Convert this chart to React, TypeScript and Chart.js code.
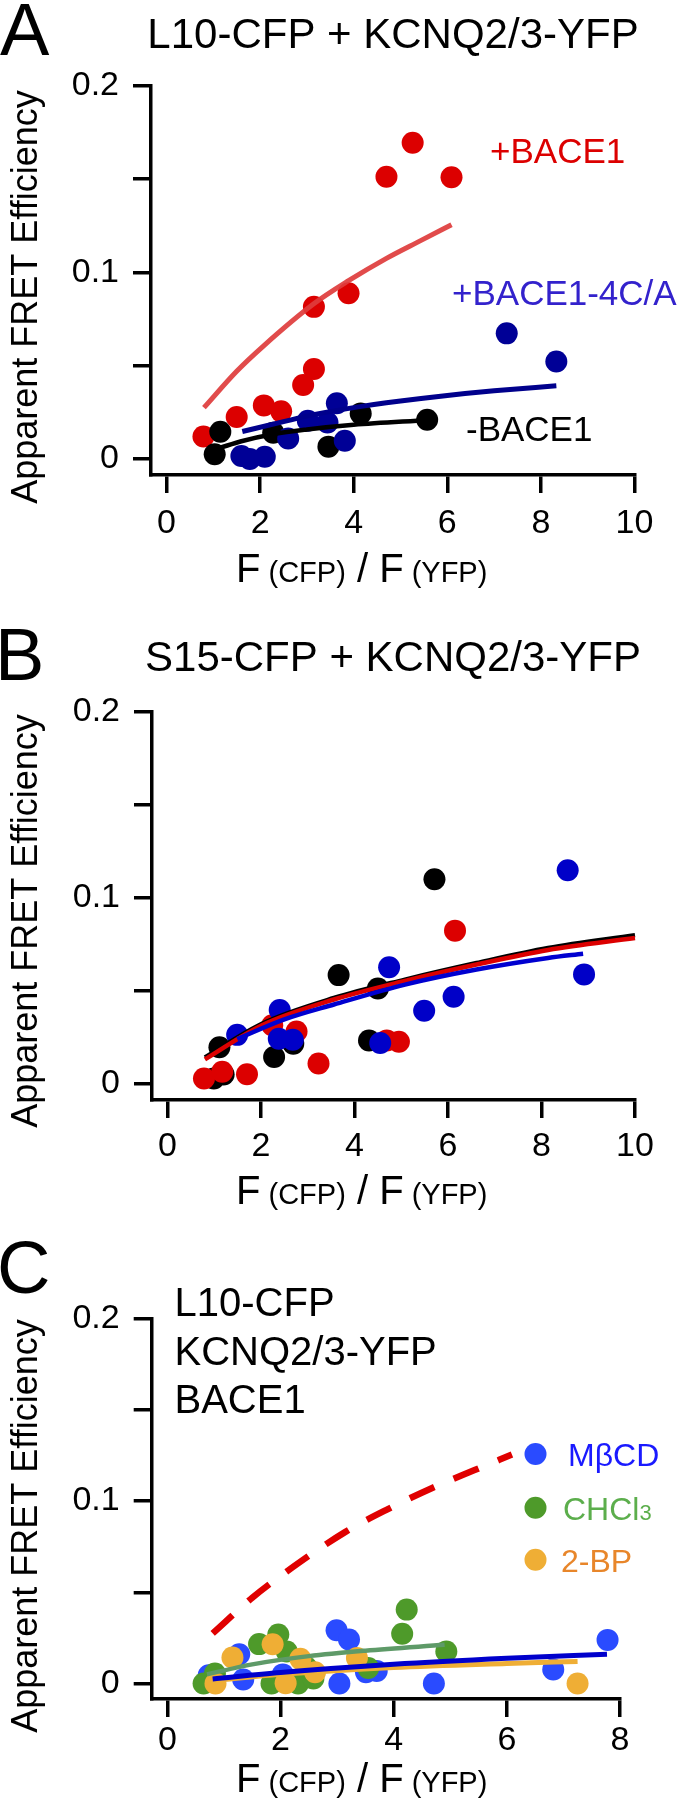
import React, { useEffect, useRef } from 'react';
import { Chart, registerables } from 'chart.js';

Chart.register(...registerables);

const FONT = "'Liberation Sans', Arial, Helvetica, sans-serif";
const PAGE_W = 687;

// ---------- axis ticks ----------
const X_TICKS_AB = [0, 2, 4, 6, 8, 10];
const X_TICK_LABELS_AB = ['0', '2', '4', '6', '8', '10'];
const X_TICKS_C = [0, 2, 4, 6, 8];
const X_TICK_LABELS_C = ['0', '2', '4', '6', '8'];
const Y_TICKS = [0, 0.05, 0.1, 0.15, 0.2];
const Y_TICK_LABELS = ['0', '', '0.1', '', '0.2'];

// ---------- Panel A: L10-CFP + KCNQ2/3-YFP ----------
const A_CTRL_X = [1.03, 1.15, 2.28, 3.46, 4.15, 5.57];
const A_CTRL_Y = [0.0025, 0.0146, 0.0141, 0.0066, 0.0243, 0.021];
const A_BACE1_X = [0.79, 1.5, 2.08, 2.45, 2.92, 3.15, 3.15, 3.89, 4.7, 5.26, 6.09];
const A_BACE1_Y = [0.012, 0.0225, 0.0287, 0.0255, 0.0396, 0.0482, 0.0815, 0.0888, 0.1512, 0.1694, 0.1509];
const A_4CA_X = [1.6, 1.78, 2.1, 2.6, 3.02, 3.44, 3.64, 3.81, 7.27, 8.33];
const A_4CA_Y = [0.0016, 0.0, 0.0012, 0.011, 0.0205, 0.0195, 0.0298, 0.0098, 0.0673, 0.0522];

const A_CTRL_FIT_X = [1.15, 1.6, 2.3, 3.0, 4.0, 5.57];
const A_CTRL_FIT_Y = [0.006, 0.0095, 0.0134, 0.0158, 0.0183, 0.0208];
const BACE1_FIT_X = [0.8, 1.5, 2.07, 3.14, 3.89, 4.7, 5.43, 6.09];
const BACE1_FIT_Y = [0.0275, 0.047, 0.0605, 0.083, 0.0955, 0.1075, 0.117, 0.1255];
const A_4CA_FIT_X = [1.62, 2.5, 3.2, 4.0, 5.0, 6.0, 7.0, 8.33];
const A_4CA_FIT_Y = [0.0147, 0.02, 0.024, 0.0275, 0.031, 0.034, 0.0365, 0.0392];

// ---------- Panel B: S15-CFP + KCNQ2/3-YFP ----------
const B_CTRL_X = [0.99, 1.2, 1.11, 2.28, 2.69, 3.66, 4.5, 4.31, 5.71];
const B_CTRL_Y = [0.0028, 0.0049, 0.0195, 0.0143, 0.0214, 0.0583, 0.0511, 0.0232, 0.1098];
const B_BACE1_X = [0.78, 1.17, 1.7, 2.24, 2.76, 3.23, 4.69, 4.95, 6.15];
const B_BACE1_Y = [0.0028, 0.0064, 0.005, 0.0314, 0.028, 0.0108, 0.0232, 0.0225, 0.0822];
const B_4CA_X = [1.49, 2.4, 2.38, 2.68, 4.74, 4.55, 5.49, 6.12, 8.56, 8.91];
const B_4CA_Y = [0.0262, 0.0396, 0.0241, 0.0236, 0.0625, 0.0218, 0.0392, 0.0467, 0.1146, 0.0587];

const B_CTRL_FIT_X = [0.8, 2.03, 3.56, 5.08, 6.61, 8.14, 10.0];
const B_CTRL_FIT_Y = [0.0141, 0.0323, 0.046, 0.0559, 0.0648, 0.0729, 0.0798];
const B_BACE1_FIT_X = [0.8, 2.03, 3.56, 5.08, 6.61, 8.14, 10.0];
const B_BACE1_FIT_Y = [0.013, 0.0315, 0.0452, 0.0552, 0.064, 0.0718, 0.0782];
const B_4CA_FIT_X = [1.49, 2.5, 3.56, 5.08, 6.61, 8.14, 8.89];
const B_4CA_FIT_Y = [0.024, 0.0345, 0.0425, 0.0532, 0.0613, 0.0675, 0.0698];

// ---------- Panel C: L10-CFP / KCNQ2/3-YFP / BACE1 with treatments ----------
const C_MBCD_X = [0.73, 1.27, 1.34, 2.04, 2.99, 3.21, 3.04, 3.51, 3.7, 4.71, 6.82, 7.78];
const C_MBCD_Y = [0.0045, 0.016, 0.0022, 0.005, 0.0292, 0.0241, 0.0, 0.0062, 0.0069, 0.0, 0.0077, 0.0239];
const C_CHCL3_X = [0.64, 0.84, 1.62, 1.96, 2.11, 1.84, 2.31, 2.58, 2.46, 3.55, 4.15, 4.23, 4.93];
const C_CHCL3_Y = [0.0, 0.0055, 0.0216, 0.0268, 0.0175, 0.0, 0.0, 0.0027, 0.0088, 0.0085, 0.0273, 0.0405, 0.0175];
const C_2BP_X = [0.85, 1.15, 1.86, 2.09, 2.35, 2.61, 3.35, 7.25];
const C_2BP_Y = [0.0, 0.0143, 0.0215, 0.0002, 0.0135, 0.0062, 0.014, 0.0];

const C_MBCD_FIT_X = [0.8, 2.0, 4.0, 6.0, 7.77];
const C_MBCD_FIT_Y = [0.0025, 0.006, 0.0105, 0.0138, 0.0161];
const C_CHCL3_FIT_X = [0.7, 1.5, 2.5, 3.5, 4.9];
const C_CHCL3_FIT_Y = [0.005, 0.0105, 0.015, 0.018, 0.0212];
const C_2BP_FIT_X = [0.84, 2.0, 4.0, 6.0, 7.25];
const C_2BP_FIT_Y = [0.0017, 0.005, 0.0088, 0.011, 0.0121];

// ---------- helpers ----------
const pts = (xs: number[], ys: number[]) => xs.map((x, i) => ({ x, y: ys[i] }));

const dots = (xs: number[], ys: number[], color: string, order: number) => ({
  data: pts(xs, ys),
  backgroundColor: color,
  borderColor: color,
  pointRadius: 11,
  pointBorderWidth: 0,
  borderWidth: 0,
  showLine: false,
  clip: false,
  order,
});

const curve = (xs: number[], ys: number[], color: string, width: number, order: number, dash: number[] = []) => ({
  data: pts(xs, ys),
  borderColor: color,
  backgroundColor: color,
  borderWidth: width,
  pointRadius: 0,
  showLine: true,
  fill: false,
  cubicInterpolationMode: 'monotone',
  borderDash: dash,
  clip: false,
  order,
});

type Part = { t: string; size: number; color?: string };
type TextItem = { parts: Part[]; x: number; y: number; align?: 'left' | 'center'; rotate?: boolean };
type Swatch = { x: number; y: number; r: number; color: string };

interface PanelCfg {
  top: number;
  height: number;
  area: { left: number; top: number; right: number; bottom: number };
  xMin: number;
  xMax: number;
  yMin: number;
  yMax: number;
  xTicks: number[];
  xTickLabels: string[];
  xLabelPad: number;
  datasets: any[];
  texts: TextItem[];
  swatches?: Swatch[];
}

const xTitle = (y: number): TextItem => ({
  x: 236,
  y,
  parts: [
    { t: 'F', size: 40 },
    { t: ' (CFP)', size: 29 },
    { t: ' / F', size: 40 },
    { t: ' (YFP)', size: 29 },
  ],
});
const yTitle = (y: number): TextItem => ({
  x: 37,
  y,
  rotate: true,
  align: 'center',
  parts: [{ t: 'Apparent FRET Efficiency', size: 36 }],
});

const PANEL_A: PanelCfg = {
  top: 0,
  height: 600,
  area: { left: 151, top: 85.7, right: 634.5, bottom: 475 },
  xMin: -0.331,
  xMax: 10,
  yMin: -0.0086,
  yMax: 0.2,
  xTicks: X_TICKS_AB,
  xTickLabels: X_TICK_LABELS_AB,
  xLabelPad: 10,
  datasets: [
    curve(BACE1_FIT_X, BACE1_FIT_Y, 'rgba(222,60,60,0.92)', 5, 0),
    curve(A_4CA_FIT_X, A_4CA_FIT_Y, '#00008c', 5, 1),
    curve(A_CTRL_FIT_X, A_CTRL_FIT_Y, '#000000', 4.5, 2),
    dots(A_4CA_X, A_4CA_Y, '#000096', 3),
    dots(A_CTRL_X, A_CTRL_Y, '#000000', 4),
    dots(A_BACE1_X, A_BACE1_Y, '#dc0000', 5),
  ],
  texts: [
    { x: 0, y: 55, parts: [{ t: 'A', size: 74 }] },
    { x: 393, y: 48, align: 'center', parts: [{ t: 'L10-CFP + KCNQ2/3-YFP', size: 42 }] },
    yTitle(297),
    xTitle(582),
    { x: 490, y: 162.5, parts: [{ t: '+BACE1', size: 35, color: '#dc0000' }] },
    { x: 452, y: 305, parts: [{ t: '+BACE1-4C/A', size: 35, color: '#3322cc' }] },
    { x: 466, y: 441, parts: [{ t: '-BACE1', size: 35, color: '#000000' }] },
  ],
};

const PANEL_B: PanelCfg = {
  top: 600,
  height: 610,
  area: { left: 152, top: 111.4, right: 635, bottom: 500 },
  xMin: -0.332,
  xMax: 10,
  yMin: -0.0088,
  yMax: 0.2,
  xTicks: X_TICKS_AB,
  xTickLabels: X_TICK_LABELS_AB,
  xLabelPad: 8,
  datasets: [
    curve(B_4CA_FIT_X, B_4CA_FIT_Y, '#0000d0', 4.5, 0),
    curve(B_BACE1_FIT_X, B_BACE1_FIT_Y, '#dc0000', 4.5, 1),
    curve(B_CTRL_FIT_X, B_CTRL_FIT_Y, '#000000', 4.5, 2),
    dots(B_4CA_X, B_4CA_Y, '#0000c8', 3),
    dots(B_BACE1_X, B_BACE1_Y, '#dc0000', 4),
    dots(B_CTRL_X, B_CTRL_Y, '#000000', 5),
  ],
  texts: [
    { x: -5, y: 80, parts: [{ t: 'B', size: 74 }] },
    { x: 393, y: 71, align: 'center', parts: [{ t: 'S15-CFP + KCNQ2/3-YFP', size: 42 }] },
    yTitle(321),
    xTitle(604),
  ],
};

const PANEL_C: PanelCfg = {
  top: 1210,
  height: 589,
  area: { left: 151.7, top: 108.7, right: 620, bottom: 489 },
  xMin: -0.2775,
  xMax: 8,
  yMin: -0.0085,
  yMax: 0.2,
  xTicks: X_TICKS_C,
  xTickLabels: X_TICK_LABELS_C,
  xLabelPad: 3,
  datasets: [
    curve(BACE1_FIT_X, BACE1_FIT_Y, '#e00000', 6.5, 0, [27, 21]),
    curve(C_CHCL3_FIT_X, C_CHCL3_FIT_Y, '#5e9a68', 4.5, 1),
    curve(C_MBCD_FIT_X, C_MBCD_FIT_Y, '#0000cc', 5, 2),
    curve(C_2BP_FIT_X, C_2BP_FIT_Y, '#efae35', 5, 3),
    dots(C_2BP_X, C_2BP_Y, '#efae35', 4),
    dots(C_CHCL3_X, C_CHCL3_Y, '#4e9a2a', 5),
    dots(C_MBCD_X, C_MBCD_Y, '#2a4bff', 6),
  ],
  texts: [
    { x: -3, y: 83, parts: [{ t: 'C', size: 74 }] },
    { x: 174.5, y: 106, parts: [{ t: 'L10-CFP', size: 40 }] },
    { x: 174.5, y: 155, parts: [{ t: 'KCNQ2/3-YFP', size: 40 }] },
    { x: 174.5, y: 203, parts: [{ t: 'BACE1', size: 40 }] },
    yTitle(316),
    xTitle(582),
    { x: 568, y: 256, parts: [{ t: 'MβCD', size: 32, color: '#1a1aff' }] },
    { x: 563, y: 309.5, parts: [{ t: 'CHCl', size: 32, color: '#5cae4c' }, { t: '3', size: 22, color: '#5cae4c' }] },
    { x: 561, y: 361.5, parts: [{ t: '2-BP', size: 32, color: '#e8862a' }] },
  ],
  swatches: [
    { x: 535.5, y: 244, r: 11, color: '#2a4bff' },
    { x: 535.5, y: 297.7, r: 11, color: '#4e9a2a' },
    { x: 535.5, y: 349.7, r: 11, color: '#efae35' },
  ],
};

const X_SCALE_H = 60;

function buildConfig(cfg: PanelCfg): any {
  const { area } = cfg;
  const textPlugin = {
    id: 'panelText',
    afterDraw(chart: any) {
      const ctx: CanvasRenderingContext2D = chart.ctx;
      ctx.save();
      for (const s of cfg.swatches || []) {
        ctx.beginPath();
        ctx.arc(s.x, s.y, s.r, 0, Math.PI * 2);
        ctx.fillStyle = s.color;
        ctx.fill();
      }
      for (const item of cfg.texts) {
        ctx.save();
        ctx.translate(item.x, item.y);
        if (item.rotate) ctx.rotate(-Math.PI / 2);
        ctx.textBaseline = 'alphabetic';
        ctx.textAlign = 'left';
        let total = 0;
        for (const p of item.parts) {
          ctx.font = `${p.size}px ${FONT}`;
          total += ctx.measureText(p.t).width;
        }
        let x = item.align === 'center' ? -total / 2 : 0;
        for (const p of item.parts) {
          ctx.font = `${p.size}px ${FONT}`;
          ctx.fillStyle = p.color || '#000000';
          ctx.fillText(p.t, x, 0);
          x += ctx.measureText(p.t).width;
        }
        ctx.restore();
      }
      ctx.restore();
    },
  };

  const axisCommon = {
    type: 'linear',
    grid: { drawOnChartArea: false, drawTicks: true, tickLength: 18, lineWidth: 3.5, color: '#000000' },
    border: { display: true, width: 3.5, color: '#000000' },
  };

  return {
    type: 'scatter',
    data: { datasets: cfg.datasets },
    options: {
      responsive: false,
      animation: false,
      events: [],
      layout: {
        padding: {
          left: 0,
          top: area.top,
          right: PAGE_W - area.right,
          bottom: cfg.height - area.bottom - X_SCALE_H,
        },
      },
      plugins: {
        legend: { display: false },
        tooltip: { enabled: false },
        title: { display: false },
      },
      scales: {
        x: {
          ...axisCommon,
          position: 'bottom',
          min: cfg.xMin,
          max: cfg.xMax,
          afterBuildTicks: (s: any) => {
            s.ticks = cfg.xTicks.map((v) => ({ value: v }));
          },
          afterFit: (s: any) => {
            s.height = X_SCALE_H;
            s.paddingLeft = 0;
            s.paddingRight = 0;
          },
          ticks: {
            font: { family: FONT, size: 34 },
            color: '#000000',
            padding: cfg.xLabelPad,
            autoSkip: false,
            maxRotation: 0,
            minRotation: 0,
            callback: (_v: any, i: number) => cfg.xTickLabels[i],
          },
        },
        y: {
          ...axisCommon,
          position: 'left',
          min: cfg.yMin,
          max: cfg.yMax,
          afterBuildTicks: (s: any) => {
            s.ticks = Y_TICKS.map((v) => ({ value: v }));
          },
          afterFit: (s: any) => {
            s.width = area.left;
            s.paddingTop = 0;
            s.paddingBottom = 0;
          },
          ticks: {
            font: { family: FONT, size: 34 },
            color: '#000000',
            padding: 14,
            autoSkip: false,
            callback: (_v: any, i: number) => Y_TICK_LABELS[i],
          },
        },
      },
    },
    plugins: [textPlugin],
  };
}

function Panel({ cfg }: { cfg: PanelCfg }) {
  const ref = useRef<HTMLCanvasElement>(null);
  useEffect(() => {
    const canvas = ref.current;
    if (!canvas) return;
    const chart = new Chart(canvas, buildConfig(cfg));
    return () => chart.destroy();
  }, [cfg]);
  return (
    <canvas
      ref={ref}
      width={PAGE_W}
      height={cfg.height}
      style={{ position: 'absolute', left: 0, top: cfg.top, width: PAGE_W, height: cfg.height }}
    />
  );
}

export default function App() {
  return (
    <div
      style={{
        position: 'absolute',
        left: 0,
        top: 0,
        width: PAGE_W,
        height: 1799,
        background: '#ffffff',
        overflow: 'hidden',
      }}
    >
      <Panel cfg={PANEL_A} />
      <Panel cfg={PANEL_B} />
      <Panel cfg={PANEL_C} />
    </div>
  );
}
